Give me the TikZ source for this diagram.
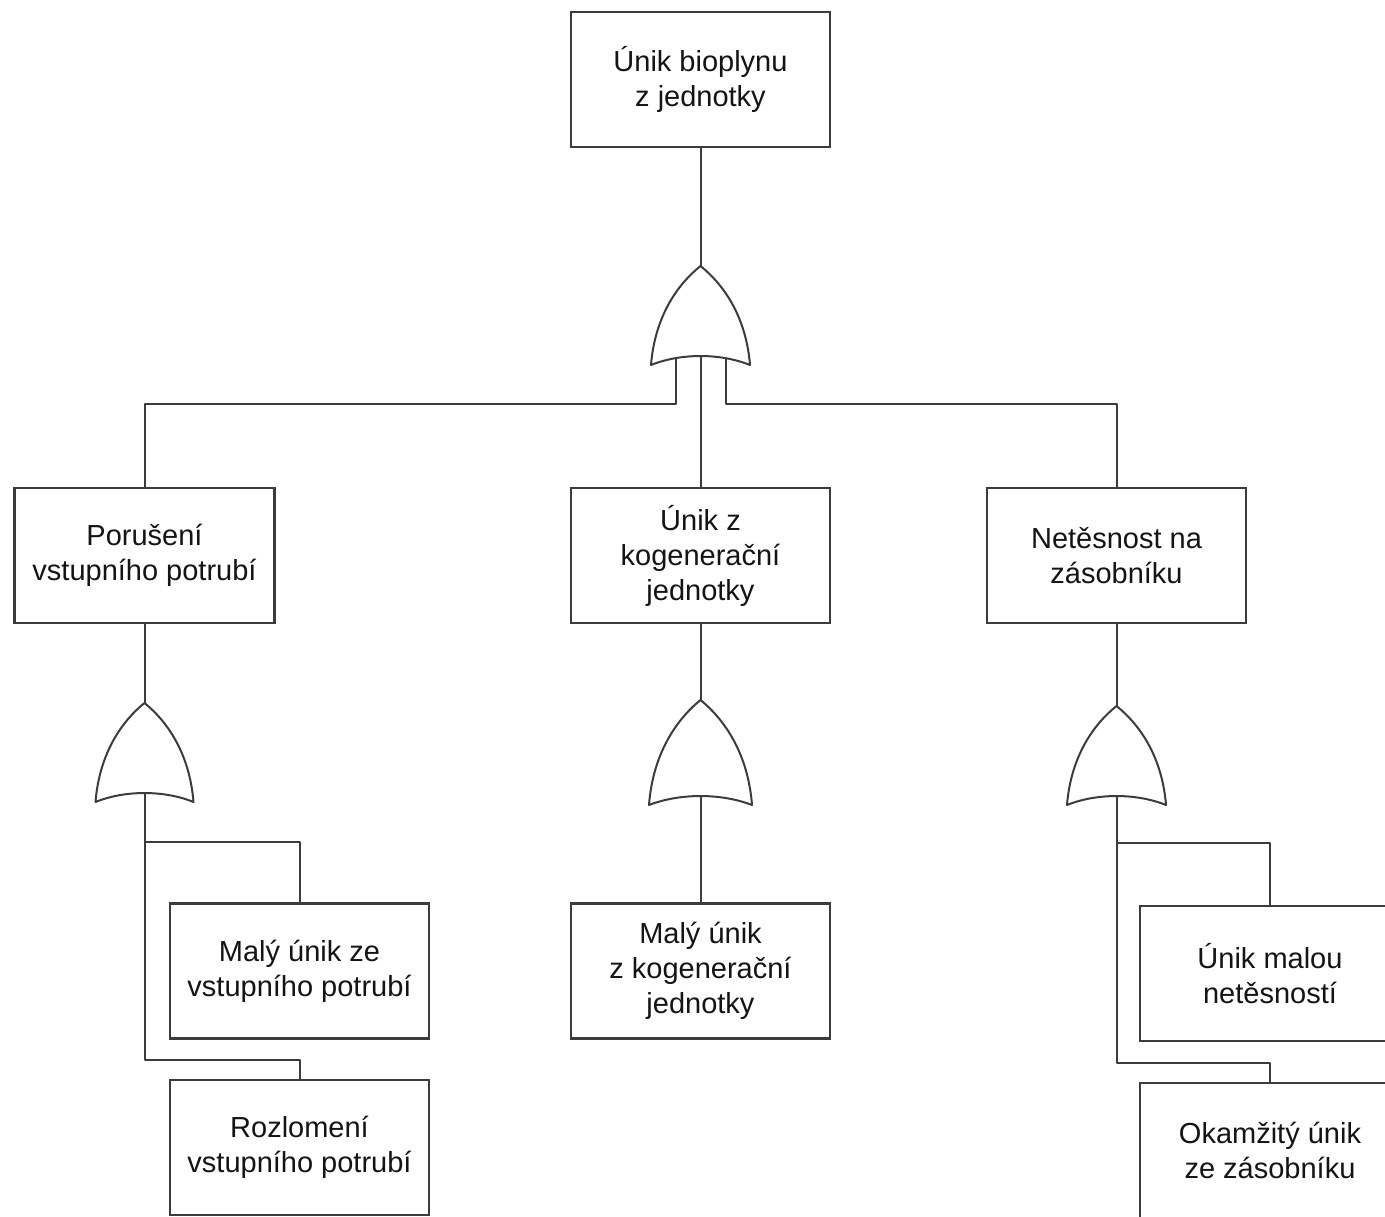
\documentclass[tikz,border=0pt]{standalone}
\usepackage{fontspec}
\setmainfont{Liberation Sans}
\usetikzlibrary{backgrounds}
\definecolor{lc}{HTML}{3C3C3C}
\definecolor{txt}{HTML}{141414}
\newcommand\ftgate[6]{% name, cx, apex y, bottom y, half width, dip
  \draw[gatestyle] ({#2-#5},#4) .. controls ({#2-#5+4},{#4-0.5*(#4-#3)}) and ({#2-0.45*#5},{#3+0.18*(#4-#3)}) .. (#2,#3)
     .. controls ({#2+0.45*#5},{#3+0.18*(#4-#3)}) and ({#2+#5-4},{#4-0.5*(#4-#3)}) .. ({#2+#5},#4)
     .. controls ({#2+0.4*#5},{#4-1.33*#6}) and ({#2-0.4*#5},{#4-1.33*#6}) .. ({#2-#5},#4) -- cycle;
  \coordinate (#1t) at (#2,#3);
  \coordinate (#1b) at (#2,{#4-#6});
  \coordinate (#1l) at ({#2-25},{#4-#6});
  \coordinate (#1r) at ({#2+25},{#4-#6});
}
\begin{document}
\begin{tikzpicture}[x=1pt,y=-1pt,
  box/.style={draw=lc, line width=2.2pt, fill=white, minimum width=259pt, minimum height=135pt,
    align=center, inner sep=0pt, font=\fontsize{29}{35}\selectfont, text=txt},
  conn/.style={draw=lc, line width=2pt, line join=round},
  gatestyle/.style={draw=lc, line width=2pt, fill=white, line join=round}]
\useasboundingbox (0,0) rectangle (1385,1217);

\node[box] (top) at (700.5,79.5) {Únik bioplynu\\z jednotky};
\node[box, minimum width=260pt] (L) at (144.5,555.5) {Porušení\\vstupního potrubí};
\node[box] (M) at (700.5,555.5) {Únik z\\kogenerační\\jednotky};
\node[box] (R) at (1116.5,555.5) {Netěsnost na\\zásobníku};
\node[box] (L1) at (299.5,971) {Malý únik ze\\vstupního potrubí};
\node[box] (L2) at (299.5,1147.5) {Rozlomení\\vstupního potrubí};
\node[box] (M1) at (700.5,971) {Malý únik\\z kogenerační\\jednotky};
\node[box, minimum width=260pt] (R1) at (1270,973.5) {Únik malou\\netěsností};
\node[box, minimum width=260pt] (R2) at (1270,1150.5) {Okamžitý únik\\ze zásobníku};

\ftgate{g0}{700.5}{266}{365}{49.5}{9}
\ftgate{g1}{144.5}{703}{802}{49}{9}
\ftgate{g2}{700.5}{700}{805}{51.5}{9}
\ftgate{g3}{1116.5}{706}{805}{49.5}{9}

\coordinate (b0) at (700.5,404);
\coordinate (j1a) at (144.5,842);
\coordinate (j1b) at (144.5,1060);
\coordinate (j3a) at (1116.5,843);
\coordinate (j3b) at (1116.5,1063);

\begin{scope}[on background layer]
\draw[conn] (top.south) -- (g0t);
\draw[conn] (g0l) -- (g0l |- b0) -| (L.north);
\draw[conn] (g0r) -- (g0r |- b0) -| (R.north);
\draw[conn] (g0b) -- (M.north);
\draw[conn] (L.south) -- (g1t);
\draw[conn] (g1b) -- (j1b) -| (L2.north);
\draw[conn] (j1a) -| (L1.north);
\draw[conn] (M.south) -- (g2t);
\draw[conn] (g2b) -- (M1.north);
\draw[conn] (R.south) -- (g3t);
\draw[conn] (g3b) -- (j3b) -| (R2.north);
\draw[conn] (j3a) -| (R1.north);
\end{scope}
\end{tikzpicture}
\end{document}
